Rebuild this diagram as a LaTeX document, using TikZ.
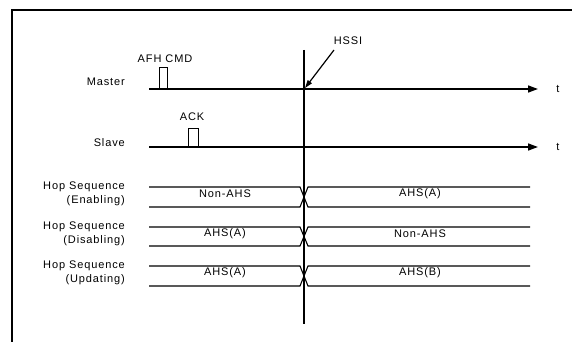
\documentclass[tikz,border=0pt]{standalone}
\usepackage{fontspec}
\setmainfont{Liberation Sans}[LetterSpace=8]
\usetikzlibrary{arrows.meta}
\begin{document}
\begin{tikzpicture}[x=1pt,y=-1pt,
  lbl/.style={font=\fontsize{11}{14}\selectfont, inner sep=0pt},
  sig/.style={line width=1.5pt},
  pulse/.style={line width=1pt},
  bus/.style={line width=1.1pt},
  arr/.style={-{Triangle[length=10pt,width=7pt]}}]
\useasboundingbox (0,0) rectangle (572,342);
% frame
\coordinate (fbl) at (12,342);
\coordinate (ftl) at (12,10);
\coordinate (ftr) at (572,10);
\draw[line width=1.1pt] (fbl) -- (ftl) -- (ftr);

% Master
\node[lbl, anchor=east] (master) at (125,82) {Master};
\coordinate (m0) at (149,89);
\coordinate (mp1) at (159,89);
\coordinate (mp2) at (159,68);
\coordinate (mp3) at (167,68);
\coordinate (mp4) at (167,89);
\coordinate (mEnd) at (538,89);
\draw[pulse] (mp1) -- (mp2) -- (mp3) -- (mp4);
\draw[sig, arr] (m0) -- (mEnd);
\node[lbl] (afh) at (165,59) {AFH CMD};
\node[lbl] (t1) at (558,89) {t};

% Slave
\node[lbl, anchor=east] (slave) at (125,143) {Slave};
\coordinate (s0) at (149,147);
\coordinate (sp1) at (188,147);
\coordinate (sp2) at (188,128);
\coordinate (sp3) at (198,128);
\coordinate (sp4) at (198,147);
\coordinate (sEnd) at (538,147);
\draw[pulse] (sp1) -- (sp2) -- (sp3) -- (sp4);
\draw[sig, arr] (s0) -- (sEnd);
\node[lbl] (ack) at (192,117) {ACK};
\node[lbl] (t2) at (558,147) {t};

% HSSI vertical line
\coordinate (vtop) at (304,50);
\coordinate (vbot) at (304,324);
\draw[line width=1.1pt] (vtop) -- (vbot);
\node[lbl] (hssi) at (348,41) {HSSI};
\coordinate (hs) at (334,50);
\coordinate (hx) at (305,88);
\draw[line width=1.2pt, -{Triangle[length=8pt,width=5pt]}] (hs) -- (hx);

% Hop sequence buses
\foreach \i/\t/\b/\ll/\rl/\mode in {1/187/207/Non-AHS/AHS(A)/Enabling,
                                   2/227/246/AHS(A)/Non-AHS/Disabling,
                                   3/266/286/AHS(A)/AHS(B)/Updating}{
  \coordinate (tl\i) at (149,\t);
  \coordinate (bl\i) at (149,\b);
  \coordinate (tx\i) at (300,\t);
  \coordinate (bx\i) at (300,\b);
  \coordinate (ty\i) at (308,\t);
  \coordinate (by\i) at (308,\b);
  \coordinate (tr\i) at (530,\t);
  \coordinate (br\i) at (530,\b);
  \draw[bus] (tl\i) -- (tx\i) -- (by\i) -- (br\i);
  \draw[bus] (bl\i) -- (bx\i) -- (ty\i) -- (tr\i);
  \node[lbl] (lv\i) at (225,{(\t+\b)/2-3}) {\ll};
  \node[lbl] (rv\i) at (420,{(\t+\b)/2-3}) {\rl};
  \node[lbl, anchor=east, align=right] (hop\i) at (125,{(\t+\b)/2-3}) {Hop Sequence\\(\mode)};
}
\end{tikzpicture}
\end{document}
